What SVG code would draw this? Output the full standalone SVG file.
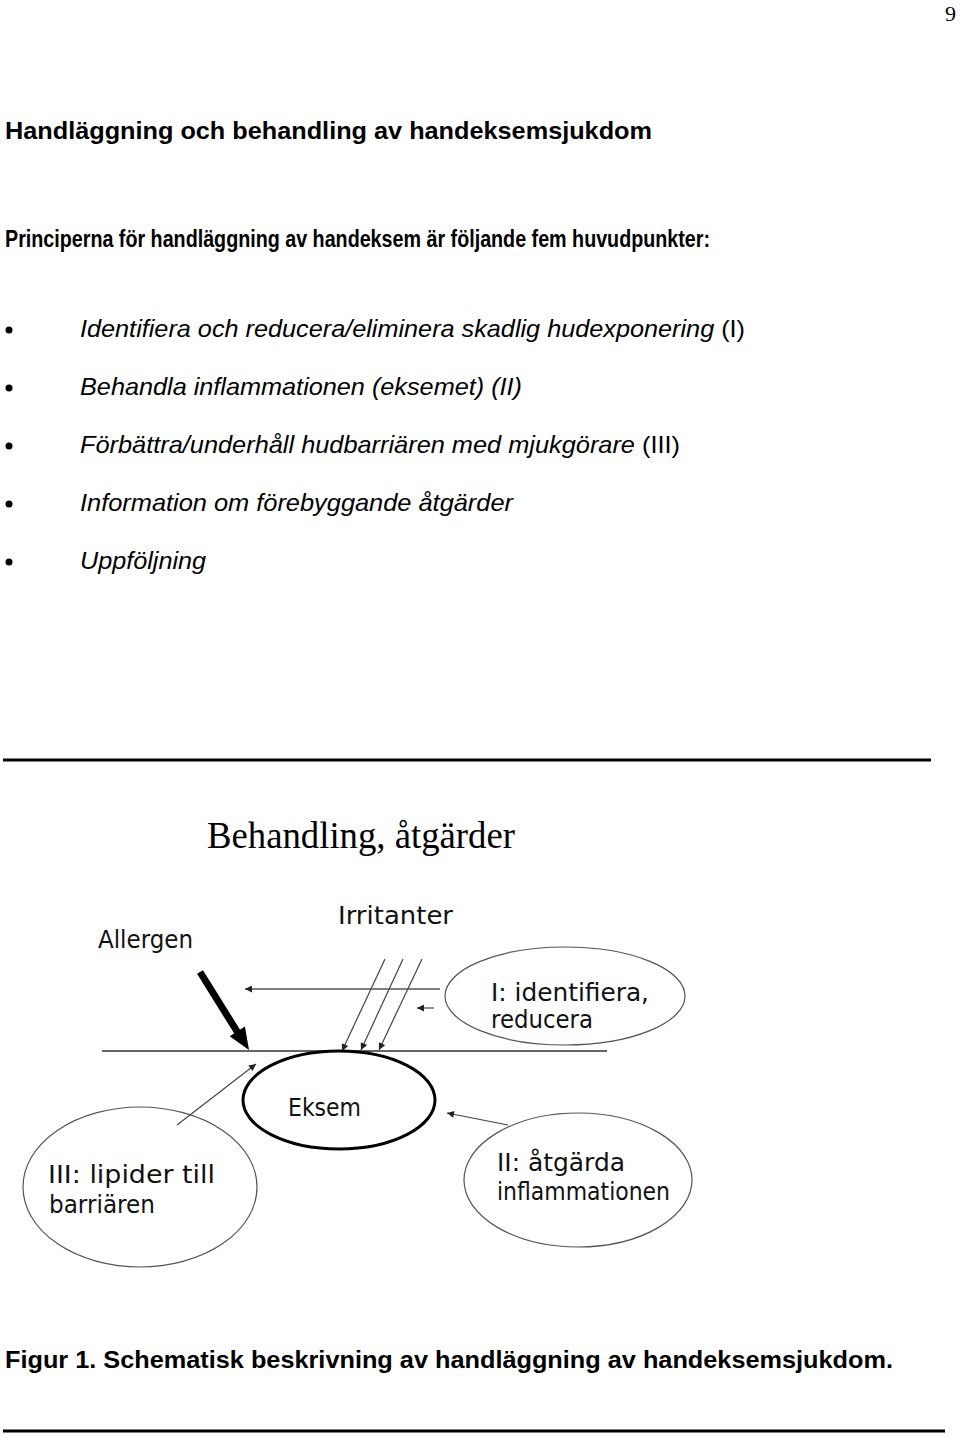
<svg xmlns="http://www.w3.org/2000/svg" width="960" height="1434" viewBox="0 0 960 1434">
<defs>
<style>
.hb{font-family:"Liberation Sans",Arial,sans-serif;font-weight:bold;font-size:24px;fill:#000}
.it{font-family:"Liberation Sans",Arial,sans-serif;font-style:italic;font-size:24px;fill:#000}
.rm{font-style:normal}
.dg{font-family:"DejaVu Sans","Liberation Sans",sans-serif;font-size:24px;fill:#111}
.thin{stroke:#444;stroke-width:1.2;fill:none}
.ell{fill:none;stroke:#555;stroke-width:1.2}
.rule{stroke:#000;stroke-width:3}
</style>
<marker id="ah" viewBox="0 0 10 10" refX="10" refY="5" markerWidth="9" markerHeight="7" markerUnits="userSpaceOnUse" orient="auto">
<path d="M0,0 L10,5 L0,10 z" fill="#222"/>
</marker>
</defs>
<rect width="960" height="1434" fill="#fff"/>
<text x="945" y="21" font-family="Liberation Serif,serif" font-size="22">9</text>
<text class="hb" x="5" y="139" textLength="647" lengthAdjust="spacingAndGlyphs">Handläggning och behandling av handeksemsjukdom</text>
<text class="hb" x="5" y="247" textLength="705" lengthAdjust="spacingAndGlyphs">Principerna för handläggning av handeksem är följande fem huvudpunkter:</text>
<g fill="#000">
<circle cx="9" cy="330" r="3.5"/><circle cx="9" cy="388" r="3.5"/><circle cx="9" cy="446" r="3.5"/><circle cx="9" cy="504" r="3.5"/><circle cx="9" cy="562" r="3.5"/>
</g>
<text class="it" x="80" y="337" textLength="665" lengthAdjust="spacingAndGlyphs">Identifiera och reducera/eliminera skadlig hudexponering <tspan class="rm">(I)</tspan></text>
<text class="it" x="80" y="395" textLength="442" lengthAdjust="spacingAndGlyphs">Behandla inflammationen (eksemet) (II)</text>
<text class="it" x="80" y="453" textLength="600" lengthAdjust="spacingAndGlyphs">Förbättra/underhåll hudbarriären med mjukgörare <tspan class="rm">(III)</tspan></text>
<text class="it" x="80" y="511" textLength="433" lengthAdjust="spacingAndGlyphs">Information om förebyggande åtgärder</text>
<text class="it" x="80" y="569" textLength="126" lengthAdjust="spacingAndGlyphs">Uppföljning</text>
<line class="rule" x1="3" y1="760" x2="931" y2="760"/>
<text x="207" y="848" font-family="Liberation Serif,serif" font-size="37" textLength="308" lengthAdjust="spacingAndGlyphs">Behandling, åtgärder</text>
<text class="dg" x="98" y="948" textLength="95" lengthAdjust="spacingAndGlyphs">Allergen</text>
<text class="dg" x="338" y="924" textLength="115" lengthAdjust="spacingAndGlyphs">Irritanter</text>
<g id="connectors">
<line x1="102" y1="1051" x2="607" y2="1051" stroke="#333" stroke-width="1.5"/>
<line class="thin" x1="385" y1="959" x2="342" y2="1051" marker-end="url(#ah)"/>
<line class="thin" x1="403" y1="959" x2="361" y2="1050" marker-end="url(#ah)"/>
<line class="thin" x1="422" y1="959" x2="379" y2="1050" marker-end="url(#ah)"/>
<line x1="440" y1="989" x2="245" y2="989" stroke="#555" stroke-width="1.6" marker-end="url(#ah)"/>
<line class="thin" x1="434" y1="1008" x2="417" y2="1008" marker-end="url(#ah)"/>
<line class="thin" x1="177" y1="1125" x2="256" y2="1064" marker-end="url(#ah)"/>
<line class="thin" x1="508" y1="1125" x2="447" y2="1113" marker-end="url(#ah)"/>
<line x1="200" y1="972" x2="238" y2="1033" stroke="#000" stroke-width="7"/>
<polygon points="249,1050 229.7,1036.2 244.9,1026.6" fill="#000"/>
</g>
<g id="node-I">
<ellipse class="ell" cx="565" cy="996" rx="120" ry="49"/>
<text class="dg" x="491" y="1001" textLength="158" lengthAdjust="spacingAndGlyphs">I: identifiera,</text>
<text class="dg" x="491" y="1028" textLength="102" lengthAdjust="spacingAndGlyphs">reducera</text>
</g>
<g id="node-eksem">
<ellipse cx="339" cy="1100" rx="96" ry="49" fill="none" stroke="#000" stroke-width="3"/>
<text class="dg" x="288" y="1116" font-size="26" textLength="73" lengthAdjust="spacingAndGlyphs">Eksem</text>
</g>
<g id="node-III">
<ellipse class="ell" cx="140" cy="1187" rx="117" ry="80"/>
<text class="dg" x="48" y="1183" textLength="167" lengthAdjust="spacingAndGlyphs">III: lipider till</text>
<text class="dg" x="49" y="1213" textLength="106" lengthAdjust="spacingAndGlyphs">barriären</text>
</g>
<g id="node-II">
<ellipse class="ell" cx="578" cy="1180" rx="114" ry="67"/>
<text class="dg" x="497" y="1171" textLength="128" lengthAdjust="spacingAndGlyphs">II: åtgärda</text>
<text class="dg" x="497" y="1200" textLength="173" lengthAdjust="spacingAndGlyphs">inflammationen</text>
</g>
<text class="hb" x="5" y="1368" textLength="888" lengthAdjust="spacingAndGlyphs">Figur 1. Schematisk beskrivning av handläggning av handeksemsjukdom.</text>
<line class="rule" x1="3" y1="1431" x2="945" y2="1431"/>
</svg>
